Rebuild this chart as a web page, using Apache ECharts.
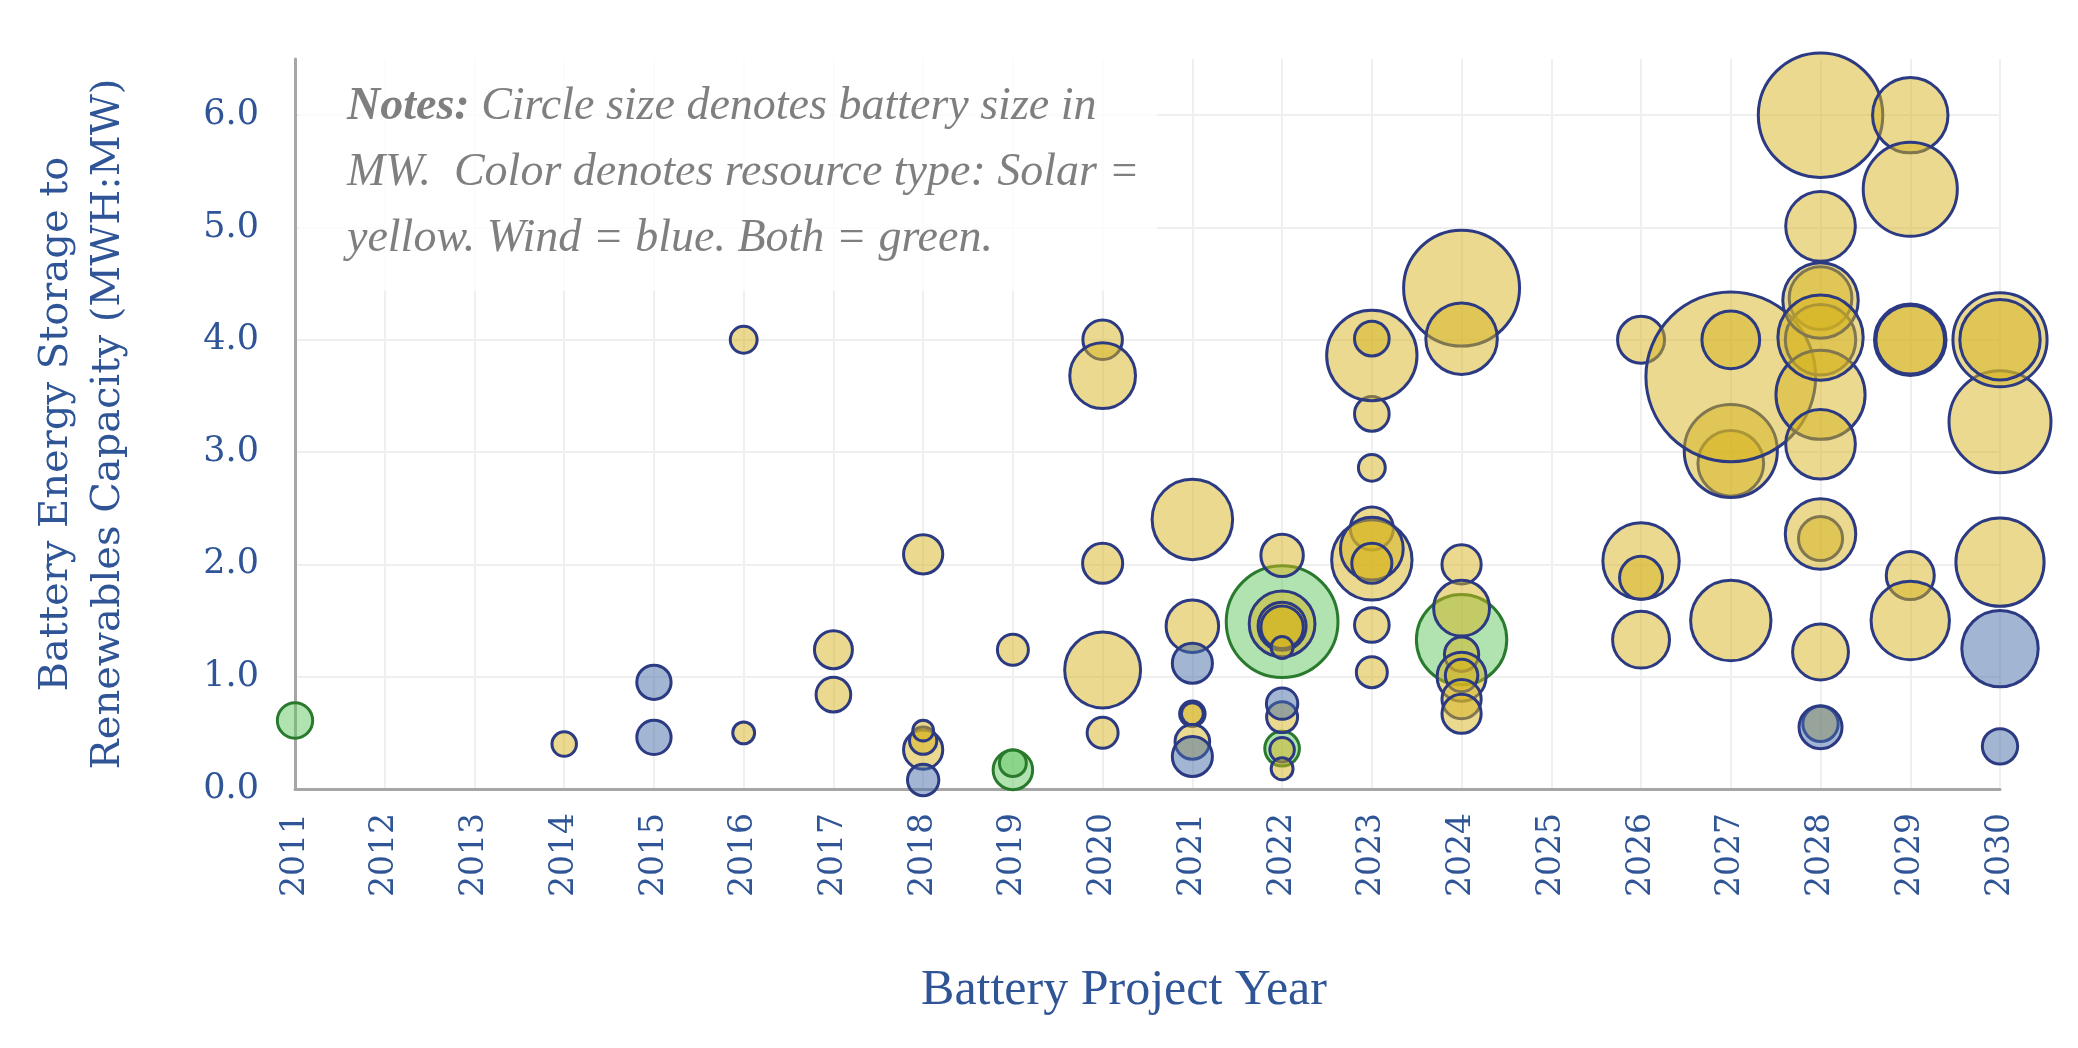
<!DOCTYPE html>
<html>
<head>
<meta charset="utf-8">
<script src="https://cdn.jsdelivr.net/npm/echarts@6/dist/echarts.min.js"></script>
<style>
  html, body { margin: 0; padding: 0; background: #ffffff; }
  #chart { width: 2078px; height: 1048px; }
</style>
</head>
<body>
<div id="chart"></div>
<script>
// ---- Data (year, MWh:MW ratio, battery size MW) ----
const yearTicks = [2011,2012,2013,2014,2015,2016,2017,2018,2019,2020,2021,2022,2023,2024,2025,2026,2027,2028,2029,2030];
const ratioTicks = [0, 1, 2, 3, 4, 5, 6];

// Both (solar + wind) = green
const bothYear  = [2011, 2019, 2019, 2022, 2022, 2024];
const bothRatio = [0.61, 0.17, 0.23, 1.49, 0.36, 1.33];
const bothMW    = [52,   65,   30,   520,  50,   340];

// Solar = yellow
const solarYear  = [2014,2016,2016,2017,2017,2018,2018,2018,2018,2019,
                    2020,2020,2020,2020,2020,2021,2021,2021,2021,2021,
                    2022,2022,2022,2022,2022,2022,2022,2022,
                    2023,2023,2023,2023,2023,2023,2023,2023,2023,2023,
                    2024,2024,2024,2024,2024,2024,2024,2024,2024,
                    2026,2026,2026,2026,
                    2027,2027,2027,2027,2027,
                    2028,2028,2028,2028,2028,2028,2028,2028,2028,2028,2028,2028,
                    2029,2029,2029,2029,2029,2029,
                    2030,2030,2030,2030];
const solarRatio = [0.40,4.00,0.50,1.24,0.84,2.09,0.35,0.43,0.52,1.24,
                    4.00,3.68,2.01,1.06,0.50,2.40,1.45,0.67,0.67,0.42,
                    2.08,1.47,1.45,1.44,1.26,0.64,0.35,0.18,
                    3.34,3.86,4.01,2.86,2.32,2.04,2.14,2.01,1.46,1.04,
                    4.46,4.01,2.00,1.61,1.20,1.00,1.01,0.80,0.67,
                    4.00,2.03,1.88,1.33,
                    2.90,3.01,3.67,4.00,1.50,
                    4.37,4.00,3.51,4.35,4.02,3.07,5.01,6.00,2.23,2.27,1.22,0.58,
                    6.00,5.34,4.00,4.00,1.90,1.50,
                    3.27,4.00,4.00,2.02];
const solarMW    = [25,30,20,60,50,64,64,31,18,40,
                    65,180,67,240,40,270,115,27,20,50,
                    75,180,96,75,20,40,25,20,
                    50,340,50,30,77,269,164,67,50,40,
                    560,213,64,130,49,100,44,64,64,
                    92,243,77,135,
                    180,361,1200,139,269,
                    164,207,331,237,303,202,202,645,81,207,130,52,
                    237,369,213,196,96,256,
                    433,369,269,324];

// Wind = blue
const windYear  = [2015, 2015, 2018, 2021, 2021, 2022, 2028, 2030, 2030];
const windRatio = [0.95, 0.46, 0.08, 1.12, 0.29, 0.76, 0.55, 1.25, 0.38];
const windMW    = [49,   49,   41,   67,   67,   41,   77,   243,  52];

function zip(xs, ys, ss) { return xs.map((x, i) => [x, ys[i], ss[i]]); }

const BLUE_TXT = '#2F5597';
const NAVY = '#2B3A82';
const sizeFn = v => 4.9 * Math.sqrt(v[2]);

function bubbleSeries(name, data, fill, border) {
  return {
    name, type: 'scatter', data, symbol: 'circle', symbolSize: sizeFn,
    clip: false, silent: true, animation: false, z: 2,
    itemStyle: { color: fill, borderColor: border, borderWidth: 3, opacity: 1 },
    emphasis: { disabled: true }
  };
}

const chart = echarts.init(document.getElementById('chart'), null, { renderer: 'canvas' });
chart.setOption({
  animation: false,
  backgroundColor: '#ffffff',
  grid: { left: 295, right: 78, top: 59, bottom: 259, containLabel: false, outerBoundsMode: 'none' },
  xAxis: {
    type: 'value', min: yearTicks[0], max: yearTicks[yearTicks.length - 1], interval: 1,
    axisLine: { show: true, lineStyle: { color: '#A6A6A6', width: 3 } },
    axisTick: { show: false },
    splitLine: { show: true, lineStyle: { color: '#EFEFEF', width: 2 } },
    axisLabel: {
      rotate: 90, margin: 24, color: BLUE_TXT, fontFamily: 'DejaVu Serif', fontSize: 33,
      formatter: v => String(v)
    }
  },
  yAxis: {
    type: 'value', min: 0, max: 6.5, interval: 1,
    axisLine: { show: true, onZero: false, lineStyle: { color: '#A6A6A6', width: 3 } },
    axisTick: { show: false },
    splitLine: { show: true, lineStyle: { color: ['#EFEFEF','#EFEFEF','#EFEFEF','#EFEFEF','#EFEFEF','#EFEFEF','#EFEFEF','rgba(0,0,0,0)'], width: 2 } },
    axisLabel: {
      margin: 36, color: BLUE_TXT, fontFamily: 'DejaVu Serif', fontSize: 35,
      formatter: v => (ratioTicks.indexOf(v) >= 0 ? v.toFixed(1) : '')
    },
    name: 'Battery Energy Storage to\nRenewables Capacity (MWH:MW)',
    nameLocation: 'middle', nameRotate: 90, nameGap: 160,
    nameTextStyle: { color: BLUE_TXT, fontFamily: 'DejaVu Serif', fontSize: 40, lineHeight: 52 }
  },
  graphic: [
    { type: 'rect', z: 1, shape: { x: 299, y: 58, width: 858, height: 233 },
      style: { fill: 'rgba(255,255,255,0.8)' } },
    { type: 'text', z: 10, x: 347, y: 74,
      style: {
        text: '{b|Notes:} Circle size denotes battery size in\nMW.  Color denotes resource type: Solar =\nyellow. Wind = blue. Both = green.',
        fill: '#7F7F7F', fontFamily: 'Liberation Serif', fontStyle: 'italic', fontSize: 46, lineHeight: 66,
        rich: { b: { fontFamily: 'Liberation Serif', fontStyle: 'italic', fontWeight: 'bold', fontSize: 46, fill: '#7F7F7F', lineHeight: 66 } }
      } },
    { type: 'text', z: 10, x: 1124, y: 991,
      style: { text: 'Battery Project Year', fill: BLUE_TXT, fontFamily: 'Liberation Serif', fontSize: 50,
               textAlign: 'center', textVerticalAlign: 'middle', verticalAlign: 'middle' } }
  ],
  series: [
    bubbleSeries('Both', zip(bothYear, bothRatio, bothMW), 'rgba(100,200,100,0.5)', '#2A7A2E'),
    bubbleSeries('Solar', zip(solarYear, solarRatio, solarMW), 'rgba(214,180,30,0.5)', NAVY),
    bubbleSeries('Wind', zip(windYear, windRatio, windMW), 'rgba(70,110,170,0.5)', NAVY)
  ]
});
</script>
</body>
</html>
